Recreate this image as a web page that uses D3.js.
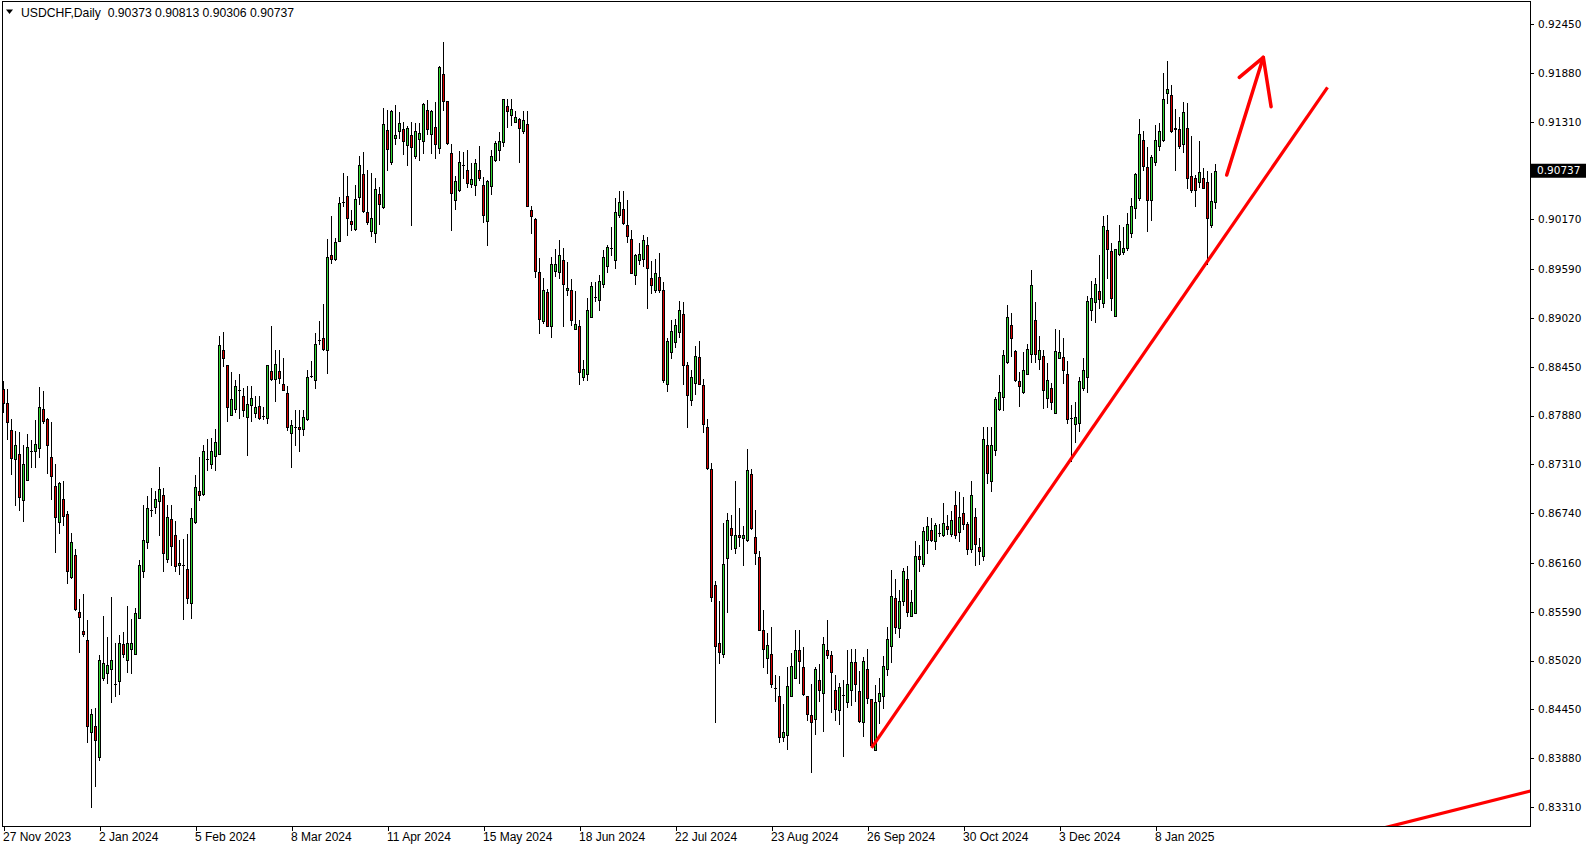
<!DOCTYPE html>
<html><head><meta charset="utf-8">
<script src="https://cdn.jsdelivr.net/npm/d3@7"></script>
<style>
html,body{margin:0;padding:0;background:#fff;overflow:hidden}
svg{display:block}
</style></head><body>
<svg id="chart" width="1594" height="850"></svg>
<script>
const symbolTitle = "USDCHF,Daily";
const titleValues = "0.90373 0.90813 0.90306 0.90737";

const opens = [0.8819,0.8803,0.8771,0.8737,0.8743,0.8689,0.8713,0.8746,0.8747,0.8750,0.8796,0.8784,0.8740,0.8706,0.8664,0.8691,0.8673,0.8600,0.8625,0.8559,
0.8537,0.8526,0.8418,0.8426,0.8389,0.8482,0.8488,0.8492,0.8475,0.8478,0.8521,0.8503,0.8515,0.8510,0.8552,0.8607,0.8640,0.8678,0.8681,0.8688,
0.8695,0.8621,0.8667,0.8648,0.8613,0.8614,0.8609,0.8569,0.8664,0.8700,0.8696,0.8737,0.8731,0.8741,0.8743,0.8864,0.8847,0.8789,0.8796,0.8818,
0.8811,0.8786,0.8800,0.8791,0.8799,0.8787,0.8785,0.8840,0.8831,0.8840,0.8825,0.8814,0.8768,0.8774,0.8774,0.8772,0.8784,0.8834,0.8830,0.8876,
0.8878,0.8865,0.8975,0.8971,0.8992,0.9037,0.9044,0.9015,0.9006,0.9043,0.9070,0.9025,0.9003,0.9001,0.9046,0.9031,0.9121,0.9084,0.9112,0.9120,
0.9123,0.9104,0.9115,0.9091,0.9111,0.9109,0.9145,0.9117,0.9125,0.9100,0.9187,0.9155,0.9095,0.9040,0.9051,0.9080,0.9075,0.9058,0.9057,0.9075,
0.9057,0.9015,0.9056,0.9086,0.9098,0.9107,0.9149,0.9139,0.9131,0.9134,0.9120,0.9128,0.9028,0.9017,0.8956,0.8898,0.8932,0.8892,0.8957,0.8956,
0.8970,0.8934,0.8935,0.8889,0.8892,0.8833,0.8836,0.8903,0.8926,0.8923,0.8941,0.8963,0.8983,0.8969,0.9022,0.9029,0.9010,0.8994,0.8952,0.8970,
0.8971,0.8987,0.8948,0.8935,0.8950,0.8934,0.8825,0.8862,0.8874,0.8886,0.8907,0.8847,0.8806,0.8826,0.8856,0.8824,0.8775,0.8725,0.8590,0.8523,
0.8510,0.8622,0.8657,0.8633,0.8648,0.8645,0.8643,0.8720,0.8646,0.8623,0.8538,0.8505,0.8510,0.8470,0.8461,0.8413,0.8415,0.8460,0.8482,0.8514,
0.8495,0.8461,0.8438,0.8434,0.8479,0.8464,0.8514,0.8509,0.8468,0.8444,0.8462,0.8454,0.8467,0.8500,0.8466,0.8430,0.8492,0.8457,0.8398,0.8455,
0.8461,0.8492,0.8519,0.8575,0.8540,0.8571,0.8597,0.8554,0.8558,0.8624,0.8615,0.8643,0.8654,0.8642,0.8651,0.8648,0.8659,0.8650,0.8683,0.8652,
0.8674,0.8661,0.8632,0.8670,0.8635,0.8624,0.8754,0.8712,0.8748,0.8796,0.8810,0.8851,0.8894,0.8863,0.8828,0.8815,0.8837,0.8860,0.8899,0.8854,
0.8857,0.8809,0.8820,0.8791,0.8855,0.8856,0.8836,0.8785,0.8778,0.8779,0.8820,0.8833,0.8911,0.8920,0.8933,0.8919,0.9005,0.8980,0.8904,0.8976,
0.8979,0.8983,0.9001,0.9030,0.9042,0.9110,0.9078,0.9039,0.9084,0.9103,0.9110,0.9164,0.9162,0.9122,0.9122,0.9105,0.9124,0.9068,0.9065,0.9060,
0.9065,0.9060,0.9010,0.90373];

const highs = [0.8828,0.8819,0.8784,0.8770,0.8769,0.8754,0.8766,0.8759,0.8783,0.8821,0.8817,0.8785,0.8780,0.8731,0.8710,0.8711,0.8677,0.8651,0.8632,0.8574,
0.8580,0.8549,0.8445,0.8447,0.8508,0.8554,0.8529,0.8576,0.8522,0.8532,0.8535,0.8566,0.8551,0.8563,0.8619,0.8684,0.8694,0.8703,0.8700,0.8728,
0.8703,0.8684,0.8684,0.8665,0.8643,0.8644,0.8650,0.8680,0.8719,0.8740,0.8754,0.8761,0.8762,0.8772,0.8881,0.8885,0.8847,0.8839,0.8829,0.8837,
0.8820,0.8822,0.8822,0.8811,0.8811,0.8798,0.8847,0.8892,0.8864,0.8864,0.8855,0.8823,0.8783,0.8794,0.8795,0.8794,0.8841,0.8852,0.8884,0.8898,
0.8918,0.8994,0.9021,0.8995,0.9043,0.9071,0.9067,0.9028,0.9057,0.9091,0.9096,0.9074,0.9071,0.9065,0.9055,0.9147,0.9145,0.9145,0.9151,0.9142,
0.9131,0.9126,0.9131,0.9130,0.9130,0.9153,0.9156,0.9145,0.9154,0.9196,0.9224,0.9155,0.9105,0.9067,0.9097,0.9096,0.9098,0.9083,0.9087,0.9103,
0.9066,0.9063,0.9098,0.9108,0.9119,0.9158,0.9157,0.9158,0.9144,0.9135,0.9143,0.9143,0.9032,0.9018,0.8972,0.8948,0.8936,0.8973,0.8982,0.8993,
0.8984,0.8967,0.8947,0.8933,0.8899,0.8853,0.8925,0.8944,0.8944,0.8952,0.8981,0.8987,0.9008,0.9042,0.9050,0.9050,0.9040,0.9004,0.8977,0.8989,
0.8999,0.8996,0.8968,0.8971,0.8978,0.8944,0.8878,0.8899,0.8901,0.8922,0.8920,0.8851,0.8841,0.8869,0.8875,0.8831,0.8784,0.8733,0.8595,0.8571,
0.8662,0.8674,0.8672,0.8711,0.8680,0.8659,0.8749,0.8726,0.8678,0.8630,0.8561,0.8534,0.8541,0.8485,0.8484,0.8451,0.8494,0.8511,0.8538,0.8538,
0.8518,0.8461,0.8475,0.8495,0.8498,0.8529,0.8549,0.8513,0.8485,0.8476,0.8479,0.8514,0.8516,0.8516,0.8490,0.8506,0.8515,0.8457,0.8473,0.8481,
0.8507,0.8541,0.8608,0.8597,0.8584,0.8610,0.8612,0.8584,0.8641,0.8637,0.8658,0.8670,0.8668,0.8663,0.8661,0.8686,0.8672,0.8676,0.8700,0.8699,
0.8693,0.8664,0.8712,0.8680,0.8645,0.8774,0.8774,0.8775,0.8810,0.8835,0.8864,0.8917,0.8908,0.8864,0.8839,0.8862,0.8871,0.8958,0.8920,0.8881,
0.8864,0.8849,0.8826,0.8889,0.8888,0.8879,0.8852,0.8800,0.8804,0.8833,0.8855,0.8927,0.8945,0.8948,0.8975,0.9021,0.9022,0.8989,0.8982,0.9010,
0.9008,0.9024,0.9042,0.9071,0.9134,0.9120,0.9101,0.9092,0.9127,0.9130,0.9188,0.9202,0.9174,0.9146,0.9137,0.9154,0.9153,0.9114,0.9069,0.9108,
0.9077,0.9073,0.9071,0.90813];

const lows = [0.8792,0.8761,0.8720,0.8684,0.8678,0.8665,0.8713,0.8728,0.8728,0.8740,0.8779,0.8721,0.8690,0.8629,0.8651,0.8660,0.8592,0.8598,0.8561,0.8512,
0.8531,0.8407,0.8331,0.8356,0.8386,0.8479,0.8476,0.8454,0.8460,0.8463,0.8506,0.8489,0.8488,0.8510,0.8552,0.8599,0.8633,0.8671,0.8674,0.8649,
0.8606,0.8617,0.8613,0.8606,0.8603,0.8550,0.8569,0.8552,0.8663,0.8689,0.8695,0.8724,0.8727,0.8724,0.8743,0.8846,0.8782,0.8789,0.8792,0.8785,
0.8787,0.8742,0.8781,0.8786,0.8784,0.8784,0.8779,0.8829,0.8805,0.8826,0.8818,0.8771,0.8728,0.8754,0.8746,0.8765,0.8783,0.8833,0.8820,0.8872,
0.8865,0.8838,0.8966,0.8969,0.8992,0.9032,0.8999,0.9005,0.9005,0.9035,0.9026,0.9012,0.8997,0.8990,0.9012,0.9030,0.9074,0.9082,0.9105,0.9112,
0.9093,0.9080,0.9010,0.9088,0.9086,0.9095,0.9117,0.9095,0.9088,0.9095,0.9145,0.9105,0.9004,0.9029,0.9050,0.9065,0.9055,0.9055,0.9045,0.9063,
0.9014,0.8987,0.9047,0.9085,0.9086,0.9103,0.9125,0.9127,0.9131,0.9084,0.9118,0.9032,0.9001,0.8950,0.8884,0.8896,0.8892,0.8880,0.8951,0.8949,
0.8892,0.8929,0.8894,0.8889,0.8825,0.8829,0.8830,0.8903,0.8922,0.8911,0.8938,0.8955,0.8975,0.8960,0.9020,0.9011,0.8991,0.8954,0.8942,0.8965,
0.8962,0.8913,0.8931,0.8932,0.8932,0.8827,0.8817,0.8855,0.8868,0.8880,0.8825,0.8774,0.8800,0.8813,0.8825,0.8769,0.8725,0.8572,0.8430,0.8499,
0.8506,0.8559,0.8632,0.8628,0.8636,0.8614,0.8642,0.8656,0.8615,0.8538,0.8494,0.8488,0.8471,0.8455,0.8407,0.8408,0.8399,0.8460,0.8481,0.8476,
0.8462,0.8432,0.8372,0.8416,0.8455,0.8420,0.8505,0.8442,0.8433,0.8428,0.8390,0.8448,0.8450,0.8455,0.8430,0.8414,0.8452,0.8402,0.8398,0.8429,
0.8447,0.8485,0.8500,0.8534,0.8529,0.8567,0.8554,0.8554,0.8558,0.8606,0.8612,0.8628,0.8642,0.8632,0.8647,0.8647,0.8650,0.8647,0.8645,0.8642,
0.8656,0.8626,0.8629,0.8614,0.8615,0.8619,0.8709,0.8700,0.8742,0.8794,0.8794,0.8849,0.8857,0.8828,0.8799,0.8814,0.8836,0.8851,0.8850,0.8842,
0.8797,0.8798,0.8796,0.8791,0.8855,0.8826,0.8779,0.8735,0.8757,0.8770,0.8818,0.8816,0.8899,0.8897,0.8914,0.8915,0.8949,0.8911,0.8904,0.8975,
0.8977,0.8981,0.8996,0.9019,0.9040,0.9075,0.9003,0.9016,0.9080,0.9098,0.9109,0.9153,0.9119,0.9074,0.9100,0.9096,0.9054,0.9049,0.9032,0.9055,
0.9053,0.8965,0.9008,0.90306];

const closes = [0.8803,0.8780,0.8738,0.8754,0.8693,0.8731,0.8751,0.8746,0.8755,0.8798,0.8782,0.8753,0.8717,0.8669,0.8709,0.8671,0.8607,0.8640,0.8562,0.8553,
0.8533,0.8425,0.8439,0.8409,0.8503,0.8499,0.8497,0.8503,0.8475,0.8522,0.8510,0.8523,0.8522,0.8558,0.8614,0.8643,0.8680,0.8678,0.8690,0.8702,
0.8627,0.8670,0.8636,0.8612,0.8616,0.8614,0.8575,0.8668,0.8705,0.8695,0.8746,0.8737,0.8747,0.8757,0.8870,0.8855,0.8798,0.8807,0.8823,0.8818,
0.8795,0.8802,0.8808,0.8798,0.8785,0.8787,0.8847,0.8831,0.8848,0.8832,0.8818,0.8775,0.8777,0.8774,0.8772,0.8786,0.8833,0.8834,0.8871,0.8876,
0.8866,0.8973,0.8971,0.8991,0.9036,0.9037,0.9019,0.9011,0.9041,0.9080,0.9027,0.9014,0.9018,0.9052,0.9035,0.9128,0.9099,0.9143,0.9115,0.9129,
0.9108,0.9124,0.9102,0.9120,0.9118,0.9152,0.9122,0.9143,0.9105,0.9195,0.9155,0.9106,0.9048,0.9062,0.9084,0.9080,0.9059,0.9064,0.9083,0.9065,
0.9022,0.9062,0.9091,0.9106,0.9109,0.9157,0.9143,0.9146,0.9136,0.9124,0.9133,0.9033,0.9021,0.8957,0.8901,0.8934,0.8892,0.8965,0.8965,0.8975,
0.8942,0.8937,0.8899,0.8895,0.8839,0.8842,0.8911,0.8939,0.8926,0.8945,0.8973,0.8985,0.8983,0.9026,0.9037,0.9013,0.8997,0.8954,0.8975,0.8976,
0.8993,0.8960,0.8940,0.8954,0.8934,0.8830,0.8875,0.8887,0.8894,0.8911,0.8847,0.8812,0.8833,0.8857,0.8825,0.8778,0.8727,0.8576,0.8519,0.8512,
0.8615,0.8666,0.8648,0.8649,0.8646,0.8649,0.8724,0.8657,0.8627,0.8538,0.8515,0.8520,0.8474,0.8470,0.8413,0.8419,0.8472,0.8496,0.8514,0.8501,
0.8463,0.8439,0.8430,0.8492,0.8467,0.8521,0.8509,0.8489,0.8445,0.8471,0.8462,0.8475,0.8500,0.8474,0.8431,0.8502,0.8458,0.8403,0.8453,0.8464,
0.8496,0.8527,0.8577,0.8541,0.8571,0.8607,0.8559,0.8570,0.8624,0.8620,0.8653,0.8659,0.8643,0.8660,0.8651,0.8662,0.8655,0.8666,0.8648,0.8669,
0.8661,0.8632,0.8695,0.8638,0.8630,0.8761,0.8721,0.8754,0.8807,0.8815,0.8859,0.8903,0.8878,0.8829,0.8822,0.8841,0.8866,0.8940,0.8860,0.8864,
0.8818,0.8829,0.8804,0.8863,0.8862,0.8841,0.8784,0.8785,0.8786,0.8828,0.8841,0.8922,0.8925,0.8942,0.8924,0.9009,0.8982,0.8925,0.8982,0.8992,
0.8983,0.9011,0.9033,0.9070,0.9117,0.9079,0.9039,0.9090,0.9110,0.9120,0.9158,0.9169,0.9120,0.9124,0.9103,0.9142,0.9065,0.9051,0.9051,0.9072,
0.9054,0.9018,0.9038,0.90737];

const dateTickIndex = [0,24,48,72,96,120,144,168,192,216,240,264,288];
const dateTickLabels = ["27 Nov 2023","2 Jan 2024","5 Feb 2024","8 Mar 2024","11 Apr 2024","15 May 2024","18 Jun 2024","22 Jul 2024","23 Aug 2024","26 Sep 2024","30 Oct 2024","3 Dec 2024","8 Jan 2025"];
const priceTicks = [0.92450,0.91880,0.91310,0.90170,0.89590,0.89020,0.88450,0.87880,0.87310,0.86740,0.86160,0.85590,0.85020,0.84450,0.83880,0.83310];
const lastPrice = 0.90737;

// drawn objects (bar index, price)
const trendMain = [[217,0.8400],[331,0.9171]];
const trendLower = [[340,0.83006],[385,0.83536]];
const arrowShaft = [[305.8,0.90687],[314.95,0.92061]];
const arrowHead = [[308.95,0.91828],[314.95,0.92061],[316.9,0.91485]];

const svg = d3.select("#chart");
svg.append("rect").attr("width",1594).attr("height",850).attr("fill","#fff");

const plotL = 2, plotR = 1530, plotT = 1, plotB = 826;
const x = d3.scaleLinear().domain([0, 303]).range([3, 1215]);
const xc = i => Math.round(x(i)) + 0.5;
const xf = i => x(i) + 0.5;
const y = d3.scaleLinear().domain([0.83310, 0.92450]).range([807, 24]);

const bull = "#32D732", bear = "#D80000";

svg.append("defs").append("clipPath").attr("id","plotclip")
  .append("rect").attr("x",plotL).attr("y",plotT).attr("width",plotR-plotL).attr("height",plotB-plotT);

const candles = d3.range(opens.length).map(i => ({i, o:opens[i], h:highs[i], l:lows[i], c:closes[i]}));

const gC = svg.append("g").attr("clip-path","url(#plotclip)").attr("shape-rendering","crispEdges");

gC.selectAll("line.wick").data(candles).join("line")
  .attr("class","wick")
  .attr("x1", d => xc(d.i)).attr("x2", d => xc(d.i))
  .attr("y1", d => Math.round(y(d.h)))
  .attr("y2", d => Math.round(y(d.l)) + 1)
  .attr("stroke","#000").attr("stroke-width",1);

const bodies = candles.map(d => {
  const top = Math.round(y(Math.max(d.o,d.c)));
  const bot = Math.round(y(Math.min(d.o,d.c)));
  return Object.assign({top, bot}, d);
});

gC.selectAll("rect.body").data(bodies.filter(d => d.bot - d.top >= 1)).join("rect")
  .attr("class","body")
  .attr("x", d => xc(d.i) - 1)
  .attr("y", d => d.top + 0.5)
  .attr("width", 2)
  .attr("height", d => d.bot - d.top)
  .attr("fill", d => d.c > d.o ? bull : bear)
  .attr("stroke","#000").attr("stroke-width",1);

gC.selectAll("line.doji").data(bodies.filter(d => d.bot - d.top < 1)).join("line")
  .attr("class","doji")
  .attr("x1", d => xc(d.i) - 1.5).attr("x2", d => xc(d.i) + 1.5)
  .attr("y1", d => d.top + 0.5).attr("y2", d => d.top + 0.5)
  .attr("stroke","#000").attr("stroke-width",1);

// drawn trend lines and arrow
const lineGen = d3.line().x(d => xf(d[0])).y(d => y(d[1]));
const gD = svg.append("g").attr("clip-path","url(#plotclip)");
gD.append("path").attr("d", lineGen(trendMain)).attr("fill","none").attr("stroke","#FF0000").attr("stroke-width",3.2);
gD.append("path").attr("d", lineGen(trendLower)).attr("fill","none").attr("stroke","#FF0000").attr("stroke-width",3.2);
gD.append("path").attr("d", lineGen(arrowShaft)).attr("fill","none").attr("stroke","#FF0000").attr("stroke-width",3.5).attr("stroke-linecap","round");
gD.append("path").attr("d", lineGen(arrowHead)).attr("fill","none").attr("stroke","#FF0000").attr("stroke-width",3.5).attr("stroke-linejoin","round").attr("stroke-linecap","round");

// frame
svg.append("rect").attr("x",plotL+0.5).attr("y",plotT+0.5).attr("width",plotR-plotL).attr("height",plotB-plotT)
  .attr("fill","none").attr("stroke","#000").attr("stroke-width",1).attr("shape-rendering","crispEdges");

// y axis
const yAxis = d3.axisRight(y).tickValues(priceTicks).tickSize(4).tickPadding(4).tickFormat(d3.format(".5f"));
const gy = svg.append("g").attr("transform",`translate(${plotR},0)`).call(yAxis);
gy.select(".domain").remove();
gy.selectAll("line").attr("stroke","#000").attr("shape-rendering","crispEdges");
gy.selectAll("text").attr("font-family","'DejaVu Sans', Verdana, sans-serif").attr("font-size","10.5px").attr("fill","#000");

// x axis
const xAxis = d3.axisBottom(x).tickValues(dateTickIndex).tickSize(5)
  .tickFormat((d,k) => dateTickLabels[k]);
const gx = svg.append("g").attr("transform",`translate(0.5,${plotB})`).call(xAxis);
gx.select(".domain").remove();
gx.selectAll("line").attr("stroke","#000").attr("shape-rendering","crispEdges");
gx.selectAll("text").attr("text-anchor","start").attr("x",-1).attr("y",6).attr("dy","0.71em")
  .attr("font-family","'Liberation Sans', Arial, sans-serif").attr("font-size","12px").attr("fill","#000");

// last price label
const lp = svg.append("g").attr("transform",`translate(1531,${y(lastPrice)})`);
lp.append("rect").attr("x",0).attr("y",-7).attr("width",55).attr("height",14).attr("fill","#000");
lp.append("text").attr("x",6).attr("y",0).attr("dy","0.35em").text(d3.format(".5f")(lastPrice))
  .attr("font-family","'DejaVu Sans', Verdana, sans-serif").attr("font-size","10.5px").attr("fill","#fff");

// title
svg.append("path").attr("d","M6,9.5 L13,9.5 L9.5,14 Z").attr("fill","#000");
svg.append("text").attr("x",21).attr("y",17).style("white-space","pre")
  .attr("font-family","'Liberation Sans', Arial, sans-serif").attr("font-size","12.2px").attr("fill","#000")
  .text(symbolTitle + "  " + titleValues);
</script>
</body></html>
